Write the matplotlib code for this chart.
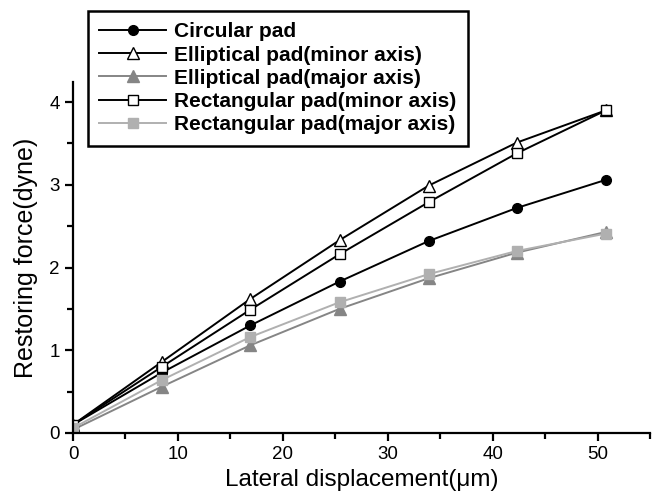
import matplotlib
matplotlib.use('Agg')
import matplotlib.pyplot as plt
from matplotlib.ticker import MultipleLocator

plt.rcParams['font.family'] = ['Liberation Sans', 'DejaVu Sans']

# lateral displacement (um)
disp = [0, 8.47, 16.9, 25.4, 33.9, 42.3, 50.8]

circular = [0.10, 0.73, 1.30, 1.83, 2.32, 2.72, 3.06]
ellip_minor = [0.10, 0.86, 1.62, 2.33, 2.99, 3.51, 3.90]
ellip_major = [0.04, 0.56, 1.06, 1.50, 1.87, 2.18, 2.43]
rect_minor = [0.10, 0.80, 1.49, 2.16, 2.79, 3.38, 3.90]
rect_major = [0.06, 0.64, 1.16, 1.58, 1.92, 2.20, 2.41]

fig = plt.figure(figsize=(6.52, 4.99), dpi=100)
ax = fig.add_axes([0.112, 0.1323, 0.885, 0.703])

ax.plot(disp, circular, '-o', color='black', lw=1.4, ms=7, label='Circular pad')
ax.plot(disp, ellip_minor, '-^', color='black', mfc='white', lw=1.4, ms=8,
        label='Elliptical pad(minor axis)')
ax.plot(disp, ellip_major, '-^', color='#858585', lw=1.4, ms=8,
        label='Elliptical pad(major axis)')
ax.plot(disp, rect_minor, '-s', color='black', mfc='white', lw=1.4, ms=7,
        label='Rectangular pad(minor axis)')
ax.plot(disp, rect_major, '-s', color='#b0b0b0', lw=1.4, ms=7,
        label='Rectangular pad(major axis)')

ax.set_xlim(0, 55)
ax.set_ylim(0, 4.24)
ax.xaxis.set_major_locator(MultipleLocator(10))
ax.xaxis.set_minor_locator(MultipleLocator(5))
ax.yaxis.set_major_locator(MultipleLocator(1))
ax.yaxis.set_minor_locator(MultipleLocator(0.5))
ax.spines['top'].set_visible(False)
ax.spines['right'].set_visible(False)
for s in ['left', 'bottom']:
    ax.spines[s].set_linewidth(1.6)
ax.tick_params(which='major', direction='out', length=6, width=1.6, labelsize=13.5)
ax.tick_params(which='minor', direction='out', length=4, width=1.6)

ax.set_xlabel('Lateral displacement(\u03bcm)', fontsize=17.5, labelpad=4)
ax.set_ylabel('Restoring force(dyne)', fontsize=18, labelpad=8)

leg = fig.legend(loc='upper left', bbox_to_anchor=(0.135, 0.978),
                 prop={'weight': 'bold', 'size': 15}, fancybox=False,
                 edgecolor='black', framealpha=1, handlelength=3.2,
                 labelspacing=0.2, borderpad=0.55, handletextpad=0.4,
                 borderaxespad=0)
leg.get_frame().set_linewidth(1.8)

fig.savefig('out.png', dpi=100)
